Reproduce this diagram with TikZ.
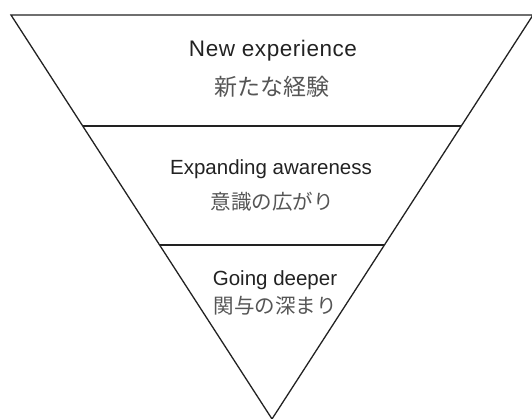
\documentclass[tikz,border=0pt]{standalone}
\usepackage{fontspec}
\setmainfont{Liberation Sans}
\newfontfamily\cjk{Noto Sans CJK JP}
\definecolor{linec}{HTML}{222222}
\definecolor{entext}{HTML}{222222}
\definecolor{jptext}{HTML}{555555}
\begin{document}
\begin{tikzpicture}[x=1pt,y=-1pt,
  edge/.style={draw=linec,line width=1.3pt,line join=miter},
  en/.style={text=entext,font=\fontsize{20.5}{22}\selectfont,inner sep=0pt,anchor=base},
  entop/.style={text=entext,font=\addfontfeature{LetterSpace=2.5}\fontsize{22.5}{24}\selectfont,inner sep=0pt,anchor=base},
  jp/.style={text=jptext,font=\cjk\fontsize{20.5}{22}\selectfont,inner sep=0pt},
  jptop/.style={text=jptext,font=\cjk\fontsize{23}{24}\selectfont,inner sep=0pt}]
\useasboundingbox (0,0) rectangle (532,419);
\coordinate (tl) at (11,15);
\coordinate (tr) at (533,15);
\coordinate (ap) at (272,419);
\coordinate (l1) at (82.7,126);
\coordinate (r1) at (461.3,126);
\coordinate (l2) at (159.6,245);
\coordinate (r2) at (384.4,245);
\draw[edge] (tl) -- (tr) -- (ap) -- cycle;
\draw[edge] (l1) -- (r1);
\draw[edge] (l2) -- (r2);
\node[entop] (e1) at (273,56.7) {New experience};
\node[jptop] (j1) at (272,86.7) {新たな経験};
\node[en] (e2) at (271,175) {Expanding awareness};
\node[jp] (j2) at (272,201.7) {意識の広がり};
\node[en] (e3) at (275,286) {Going deeper};
\node[jp] (j3) at (275,305.5) {関与の深まり};
\end{tikzpicture}
\end{document}
